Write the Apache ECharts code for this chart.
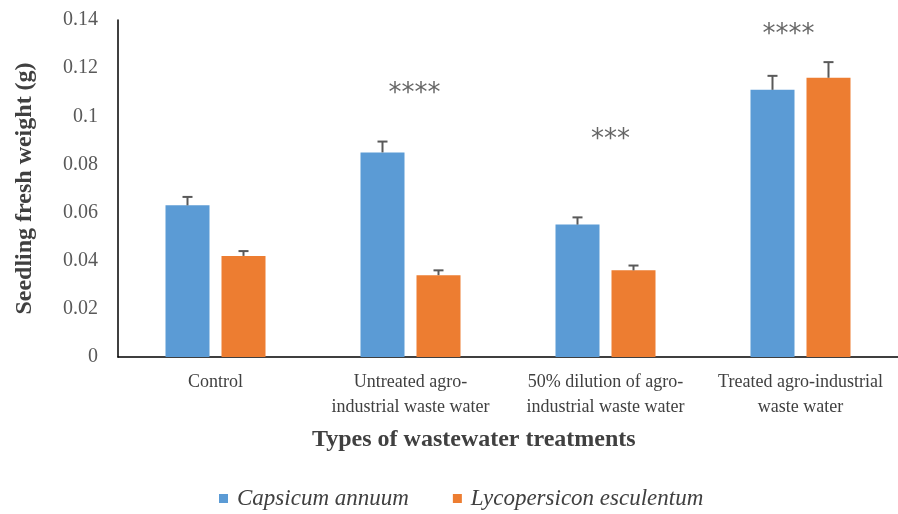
<!DOCTYPE html>
<html>
<head>
<meta charset="utf-8">
<script src="https://cdn.jsdelivr.net/npm/echarts@6/dist/echarts.min.js"></script>
<style>
  html, body { margin: 0; padding: 0; background: #ffffff; }
  #chart { width: 898px; height: 514px; }
</style>
</head>
<body>
<div id="chart"></div>
<script>
// Treatment groups along the x axis
const categories = [
  'Control',
  'Untreated agro-\nindustrial waste water',
  '50% dilution of agro-\nindustrial waste water',
  'Treated agro-industrial\nwaste water'
];

// Mean seedling fresh weight (g) and standard error per species
const capsicumMean = [0.063, 0.085, 0.055, 0.111];
const capsicumErr  = [0.0035, 0.0045, 0.003, 0.0058];
const lycoMean     = [0.042, 0.034, 0.036, 0.116];
const lycoErr      = [0.002, 0.002, 0.002, 0.0065];

// Significance marks: category index, height (g), text
const sigIndex  = [1, 2, 3];
const sigHeight = [0.1125, 0.0935, 0.137];
const sigText   = ['****', '***', '****'];

const yTicks = [0, 0.02, 0.04, 0.06, 0.08, 0.1, 0.12, 0.14];

const BLUE = '#5B9BD5';
const ORANGE = '#ED7D31';
const BAR_W = 44;
const BAR_GAP_PX = 12;
const HALF_STEP = (BAR_W + BAR_GAP_PX) / 2;
const SERIF = '"Liberation Serif", "Times New Roman", serif';

function errorBarSeries(means, errs, shift) {
  return {
    type: 'custom',
    z: 5,
    silent: true,
    data: means.map((m, i) => [i, m, m + errs[i]]),
    renderItem: function (params, api) {
      const base = api.coord([api.value(0), api.value(1)]);
      const top = api.coord([api.value(0), api.value(2)]);
      const x = base[0] + shift;
      const cap = 5;
      const style = { stroke: '#595959', lineWidth: 2 };
      return {
        type: 'group',
        children: [
          { type: 'line', shape: { x1: x, y1: base[1], x2: x, y2: top[1] }, style: style },
          { type: 'line', shape: { x1: x - cap, y1: top[1], x2: x + cap, y2: top[1] }, style: style }
        ]
      };
    }
  };
}

const chart = echarts.init(document.getElementById('chart'), null, { renderer: 'canvas' });

chart.setOption({
  animation: false,
  backgroundColor: '#ffffff',
  grid: { left: 118, right: 0, top: 20, bottom: 157, containLabel: false },
  legend: {
    top: 482,
    left: 214,
    itemWidth: 9,
    itemHeight: 9,
    itemGap: 44,
    icon: 'rect',
    data: ['Capsicum annuum', 'Lycopersicon esculentum'],
    textStyle: { fontFamily: SERIF, fontStyle: 'italic', fontSize: 23, color: '#404040', padding: [0, 0, 0, 4] }
  },
  xAxis: {
    type: 'category',
    data: categories,
    axisLine: { lineStyle: { color: '#000000', width: 1.5 } },
    axisTick: { show: false },
    axisLabel: {
      interval: 0,
      margin: 13,
      fontFamily: SERIF,
      fontSize: 18,
      lineHeight: 25,
      color: '#404040'
    }
  },
  yAxis: {
    type: 'value',
    min: 0,
    max: 0.14,
    interval: 0.02,
    name: 'Seedling fresh weight (g)',
    nameLocation: 'middle',
    nameGap: 81,
    nameTextStyle: { fontFamily: SERIF, fontWeight: 'bold', fontSize: 24, color: '#404040' },
    axisLine: { show: true, lineStyle: { color: '#000000', width: 1.5 } },
    axisTick: { show: false },
    splitLine: { show: false },
    axisLabel: {
      margin: 20,
      fontFamily: SERIF,
      fontSize: 20,
      color: '#595959',
      formatter: function (v) {
        const hit = yTicks.find(t => Math.abs(t - v) < 1e-9);
        return hit === undefined ? '' : String(+hit.toFixed(2));
      }
    }
  },
  graphic: [
    {
      type: 'text',
      left: 312,
      top: 428,
      style: {
        text: 'Types of wastewater treatments',
        font: 'bold 24px ' + SERIF,
        fill: '#404040'
      }
    }
  ],
  series: [
    {
      name: 'Capsicum annuum',
      type: 'bar',
      barWidth: BAR_W,
      barGap: (BAR_GAP_PX / BAR_W * 100) + '%',
      itemStyle: { color: BLUE },
      data: capsicumMean
    },
    {
      name: 'Lycopersicon esculentum',
      type: 'bar',
      barWidth: BAR_W,
      itemStyle: { color: ORANGE },
      data: lycoMean
    },
    errorBarSeries(capsicumMean, capsicumErr, -HALF_STEP),
    errorBarSeries(lycoMean, lycoErr, HALF_STEP),
    {
      type: 'scatter',
      silent: true,
      symbolSize: 0,
      z: 6,
      data: sigIndex.map((c, i) => ({
        value: [c, sigHeight[i]],
        label: { offset: [[4, 5, -12][i], 8] }
      })),
      label: {
        show: true,
        position: 'inside',
        formatter: function (p) { return sigText[p.dataIndex]; },
        fontFamily: '"DejaVu Sans", sans-serif',
        fontSize: 26,
        color: '#404040'
      }
    }
  ]
});
</script>
</body>
</html>
